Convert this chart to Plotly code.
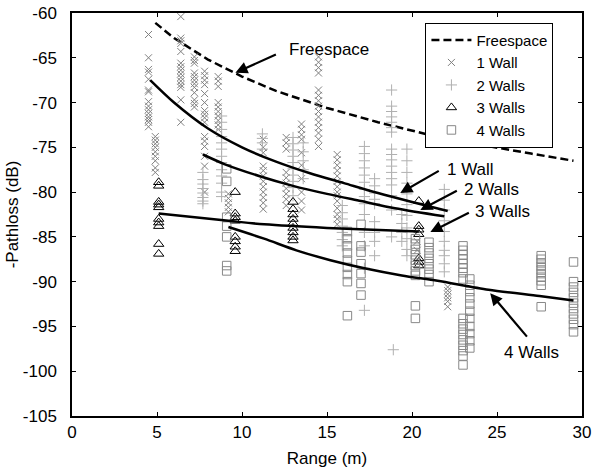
import plotly.graph_objects as go

# ---------------- data ----------------
free_x = [4.9, 6.0, 7.0, 8.0, 10.0, 12.0, 15.0, 18.0, 21.0, 24.0, 27.0, 29.5]
free_y = [-61.1, -62.8, -64.0, -65.2, -67.1, -68.7, -70.6, -72.2, -73.6, -74.7, -75.7, -76.5]

fit1_x = [4.6, 6.0, 8.0, 10.0, 12.0, 14.0, 16.0, 18.0, 20.0, 22.1]
fit1_y = [-67.5, -70.0, -72.9, -75.0, -76.6, -77.9, -79.0, -80.1, -81.1, -82.1]

fit2_x = [7.7, 9.0, 11.0, 13.0, 15.0, 17.0, 19.0, 21.9]
fit2_y = [-75.8, -76.9, -78.2, -79.3, -80.2, -81.0, -81.8, -82.7]

fit3_x = [5.1, 9.2, 11.3, 15.0, 20.4]
fit3_y = [-82.4, -83.2, -83.6, -84.0, -84.4]

fit4_x = [9.2, 11.3, 13.2, 15.2, 17.2, 19.4, 21.5, 24.5, 27.5, 29.5]
fit4_y = [-83.9, -85.2, -86.5, -87.6, -88.5, -89.3, -89.9, -90.9, -91.6, -92.1]

w1_x = ([4.5] * 15 + [4.9] * 9 + [6.4] * 15 + [7.2] * 12 + [7.8] * 16 + [8.6] * 10 + [9.2] * 5
        + [11.25] * 12 + [12.6] * 10 + [13.5] * 10 + [14.5] * 15 + [15.6] * 14 + [20.3] * 2 + [22.1] * 6)
w1_y = ([-62.4, -65.0, -66.3, -66.6, -67.4, -68.6, -68.8, -69.9, -70.4, -70.8, -71.2, -71.6, -71.9, -72.2, -72.7]
        + [-73.8, -74.2, -74.6, -75.0, -75.5, -76.0, -76.5, -77.3, -77.8]
        + [-60.4, -62.8, -63.1, -63.4, -64.3, -65.6, -66.0, -66.4, -66.8, -67.2, -67.6, -68.0, -68.3, -69.7, -72.2]
        + [-64.9, -65.3, -65.6, -66.7, -67.1, -67.5, -67.9, -68.3, -68.9, -69.7, -70.1, -70.5]
        + [-66.5, -67.0, -67.5, -68.0, -69.0, -70.0, -70.9, -71.3, -71.7, -72.2, -73.8, -74.3, -74.9, -76.0, -77.1, -80.0]
        + [-67.1, -67.6, -68.2, -70.0, -70.5, -71.0, -71.5, -72.0, -72.5, -73.0]
        + [-80.2, -80.7, -81.2, -81.7, -82.2]
        + [-74.1, -75.0, -75.6, -77.1, -77.6, -78.2, -78.8, -79.4, -80.0, -80.6, -81.2, -81.9]
        + [-73.9, -74.5, -75.2, -77.8, -78.4, -79.0, -79.6, -80.2, -80.8, -81.5]
        + [-72.4, -73.0, -73.6, -74.1, -75.6, -77.0, -78.5, -80.0, -81.0, -82.0]
        + [-64.9, -65.5, -66.1, -66.7, -68.6, -69.2, -69.8, -70.4, -71.0, -71.6, -72.2, -72.8, -73.4, -74.1, -74.9]
        + [-75.8, -76.4, -77.0, -77.6, -78.2, -78.8, -79.4, -80.0, -80.4, -81.0, -81.8, -82.5, -83.0, -83.6]
        + [-85.5, -86.5]
        + [-90.6, -91.0, -91.4, -91.8, -92.2, -92.8])

w2_x = ([7.7] * 8 + [8.8] * 13 + [11.2] * 4 + [13.0] * 10 + [13.6] * 5 + [15.9] * 7 + [17.2] * 14
        + [17.8] * 9 + [18.8] * 17 + [19.4] * 4 + [19.7] * 11 + [21.9] * 10 + [18.9])
w2_y = ([-77.8, -78.6, -79.1, -79.6, -80.1, -80.6, -81.0, -81.3]
        + [-71.5, -72.2, -73.0, -73.8, -74.5, -75.2, -76.0, -76.7, -77.5, -78.2, -79.0, -80.0, -80.5]
        + [-73.5, -74.0, -74.5, -75.2]
        + [-73.9, -74.6, -75.3, -76.0, -76.7, -77.4, -78.1, -78.8, -79.5, -80.4]
        + [-74.5, -75.5, -76.5, -77.5, -78.5]
        + [-81.5, -82.3, -83.0, -83.8, -84.5, -85.3, -86.0]
        + [-74.9, -75.7, -76.5, -77.3, -78.1, -78.9, -79.7, -80.5, -81.3, -82.5, -84.5, -86.0, -88.5, -93.2]
        + [-78.5, -79.3, -80.1, -80.8, -81.3, -83.3, -84.5, -85.5, -87.1]
        + [-68.6, -70.4, -71.0, -71.6, -72.2, -72.8, -73.3, -75.2, -75.8, -76.4, -77.1, -77.8, -78.5, -79.2, -80.4, -82.0, -85.0]
        + [-82.5, -83.5, -84.5, -85.5]
        + [-75.2, -76.5, -77.8, -79.0, -80.2, -81.4, -82.6, -84.0, -85.2, -86.4, -87.1]
        + [-79.7, -80.9, -82.0, -83.2, -84.4, -85.5, -86.5, -87.1, -88.0, -88.9]
        + [-97.6])

w3_x = [5.1] * 10 + [9.6] * 8 + [13.0] * 9 + [20.4] * 7
w3_y = ([-78.9, -79.3, -81.1, -81.4, -81.7, -83.0, -83.4, -83.8, -85.8, -86.9]
        + [-80.0, -82.4, -82.8, -83.2, -85.0, -85.5, -86.1, -86.6]
        + [-81.1, -81.9, -82.5, -83.0, -83.5, -84.0, -84.5, -85.0, -85.4]
        + [-81.0, -83.8, -84.2, -84.7, -87.4, -87.8, -88.2])

w4_x = ([9.1] * 7 + [16.2] * 9 + [17.0] * 7 + [20.2] * 10 + [21.0] * 8 + [23.0] * 17 + [23.4] * 11
        + [27.6] * 10 + [29.5] * 11)
w4_y = ([-77.4, -78.8, -82.8, -83.8, -85.0, -88.2, -88.8]
        + [-84.4, -85.2, -86.0, -86.8, -87.6, -88.4, -89.2, -90.0, -93.8]
        + [-83.6, -86.0, -86.7, -88.0, -89.1, -90.2, -91.5]
        + [-85.2, -85.8, -86.4, -87.0, -87.6, -88.2, -88.8, -89.3, -92.7, -94.1]
        + [-85.6, -86.2, -86.8, -87.4, -88.0, -88.6, -89.2, -90.0]
        + [-86.0, -86.5, -87.0, -87.5, -88.0, -88.5, -89.0, -89.7, -94.1, -94.7, -95.3, -95.9, -96.5, -97.1, -97.7, -98.3, -99.3]
        + [-89.7, -90.4, -91.1, -91.8, -92.5, -93.3, -94.1, -95.0, -95.8, -96.6, -97.4]
        + [-87.1, -87.5, -87.9, -88.3, -88.7, -89.1, -89.5, -89.9, -90.4, -92.8]
        + [-87.8, -90.0, -90.6, -91.2, -91.8, -92.4, -93.0, -93.6, -94.2, -94.8, -95.6])

x_ticks = [0, 5, 10, 15, 20, 25, 30]
x_ticklabels = ["0", "5", "10", "15", "20", "25", "30"]
y_ticks = [-60, -65, -70, -75, -80, -85, -90, -95, -100, -105]
y_ticklabels = ["-60", "-65", "-70", "-75", "-80", "-85", "-90", "-95", "-100", "-105"]

# label text, arrow head (data), arrow tail offset (px), text position (data)
labels = ["Freespace", "1 Wall", "2 Walls", "3 Walls", "4 Walls"]
head_x = [9.61, 19.31, 20.49, 21.08, 24.6]
head_y = [-66.68, -80.1, -82.0, -84.46, -91.28]
tail_dx = [42, 40, 38, 40, 38]
tail_dy = [-19, -23, -20, -20, 45]
text_x = [12.66, 21.96, 22.96, 23.6, 25.31]
text_y = [-64.1, -77.5, -79.76, -82.2, -97.9]

# ---------------- figure ----------------
FONT = "Liberation Sans, Arial, sans-serif"
FS = 17
fig = go.Figure()

fig.add_trace(go.Scatter(x=free_x, y=free_y, mode="lines", name="Freespace",
                         line=dict(color="black", width=2.5, dash="8px,4px")))
fig.add_trace(go.Scatter(x=w1_x, y=w1_y, mode="markers", name="1 Wall",
                         marker=dict(symbol="x-thin-open", size=7, color="#808080",
                                     line=dict(color="#808080", width=1))))
fig.add_trace(go.Scatter(x=w2_x, y=w2_y, mode="markers", name="2 Walls",
                         marker=dict(symbol="cross-thin-open", size=8, color="#b0b0b0",
                                     line=dict(color="#b0b0b0", width=1))))
fig.add_trace(go.Scatter(x=w3_x, y=w3_y, mode="markers", name="3 Walls",
                         marker=dict(symbol="triangle-up-open", size=9, color="black",
                                     line=dict(color="black", width=1))))
fig.add_trace(go.Scatter(x=w4_x, y=w4_y, mode="markers", name="4 Walls",
                         marker=dict(symbol="square-open", size=8.5, color="#888888",
                                     line=dict(color="#888888", width=1))))

for fx, fy in [(fit1_x, fit1_y), (fit2_x, fit2_y), (fit3_x, fit3_y), (fit4_x, fit4_y)]:
    fig.add_trace(go.Scatter(x=fx, y=fy, mode="lines", showlegend=False,
                             line=dict(color="black", width=2.5, shape="spline", smoothing=0.8)))

for i in range(len(labels)):
    fig.add_annotation(x=head_x[i], y=head_y[i], ax=tail_dx[i], ay=tail_dy[i], text="",
                       showarrow=True, arrowhead=2, arrowsize=1.1, arrowwidth=2.2,
                       arrowcolor="black")
    fig.add_annotation(x=text_x[i], y=text_y[i], text=labels[i], showarrow=False,
                       xanchor="left", yanchor="middle",
                       font=dict(family=FONT, size=FS, color="black"))

axis_common = dict(showgrid=False, zeroline=False, showline=True, linecolor="black",
                   linewidth=1.5, mirror="ticks", ticks="inside", ticklen=4,
                   tickcolor="black", tickwidth=1, automargin=False,
                   tickfont=dict(family=FONT, size=FS, color="black"))

fig.update_xaxes(range=[0, 30], tickvals=x_ticks, ticktext=x_ticklabels,
                 title=dict(text="Range (m)", font=dict(family=FONT, size=FS, color="black"),
                            standoff=11),
                 **axis_common)
fig.update_yaxes(range=[-105, -60], tickvals=y_ticks, ticktext=y_ticklabels,
                 ticklabelstandoff=10,
                 title=dict(text="-Pathloss (dB)", font=dict(family=FONT, size=FS, color="black"),
                            standoff=0),
                 **axis_common)

fig.update_layout(
    width=600, height=468,
    margin=dict(l=72, r=18, t=13, b=52),
    paper_bgcolor="white", plot_bgcolor="white",
    font=dict(family=FONT, size=FS, color="black"),
    legend=dict(x=0.693, y=0.976, xanchor="left", yanchor="top",
                bgcolor="white", bordercolor="black", borderwidth=1,
                font=dict(family=FONT, size=15, color="black"),
                tracegroupgap=0, itemwidth=40),
)

fig.write_html("out.html")
